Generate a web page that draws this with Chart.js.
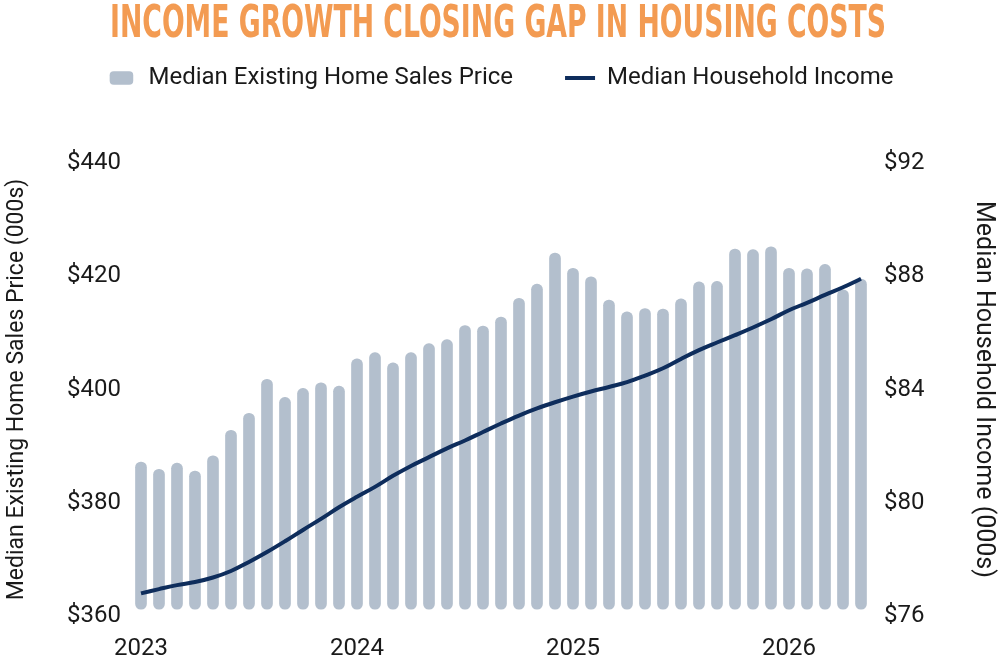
<!DOCTYPE html>
<html>
<head>
<meta charset="utf-8">
<script src="https://cdn.jsdelivr.net/npm/chart.js@4.4.1/dist/chart.umd.min.js"></script>
<style>
  html, body { margin: 0; padding: 0; background: #ffffff; }
  #wrap { width: 1000px; height: 664px; position: relative; overflow: hidden; }
  #titleText {
    position: absolute; left: 498px; top: -1px;
    font-family: 'DejaVu Sans Condensed', 'Liberation Sans Narrow', sans-serif;
    font-weight: bold; font-size: 45px; line-height: 45px;
    color: #F39B52; white-space: nowrap;
    transform-origin: 50% 50%;
    transform: translateX(-50%) scaleX(0.66);
    pointer-events: none;
  }
</style>
</head>
<body>
<div id="wrap">
  <canvas id="c" width="1000" height="664"></canvas>
  <div id="titleText"></div>
</div>
<script>
// ---- Data ----
const months = [
  '2023-01','2023-02','2023-03','2023-04','2023-05','2023-06','2023-07','2023-08','2023-09','2023-10','2023-11','2023-12',
  '2024-01','2024-02','2024-03','2024-04','2024-05','2024-06','2024-07','2024-08','2024-09','2024-10','2024-11','2024-12',
  '2025-01','2025-02','2025-03','2025-04','2025-05','2025-06','2025-07','2025-08','2025-09','2025-10','2025-11','2025-12',
  '2026-01','2026-02','2026-03','2026-04','2026-05'
];
const homePrice = [
  387.2, 385.9, 387.0, 385.6, 388.3, 392.8, 395.8, 401.8, 398.6, 400.2, 401.2, 400.6,
  405.4, 406.5, 404.7, 406.5, 408.1, 408.8, 411.3, 411.2, 412.8, 416.1, 418.6, 424.1,
  421.4, 419.9, 415.8, 413.7, 414.3, 414.2, 416.0, 419.0, 419.1, 424.8, 424.7, 425.2,
  421.4, 421.3, 422.1, 417.6, 419.5
];
const income = [
  76.80, 76.95, 77.09, 77.20, 77.36, 77.59, 77.91, 78.26, 78.64, 79.04, 79.43, 79.84,
  80.21, 80.56, 80.95, 81.30, 81.61, 81.92, 82.20, 82.50, 82.80, 83.08, 83.33, 83.55,
  83.75, 83.93, 84.09, 84.26, 84.49, 84.75, 85.08, 85.39, 85.66, 85.92, 86.19, 86.48,
  86.80, 87.06, 87.34, 87.61, 87.91
];
const priceTicks = [360, 380, 400, 420, 440];
const incomeTicks = [76, 80, 84, 88, 92];
const seriesNames = ['Median Existing Home Sales Price', 'Median Household Income'];
const titleText = 'INCOME GROWTH CLOSING GAP IN HOUSING COSTS';
const leftAxisTitle = 'Median Existing Home Sales Price (000s)';
const rightAxisTitle = 'Median Household Income (000s)';

document.getElementById('titleText').textContent = titleText;

// ---- Styles ----
const BAR = '#B3BFCD';
const LINE = '#0E2D5C';
const TXT = '#1a1a1a';
const FONT = "Roboto, 'Noto Sans', sans-serif";

const chart = new Chart(document.getElementById('c'), {
  data: {
    labels: months,
    datasets: [
      {
        type: 'line',
        label: seriesNames[1],
        data: income,
        yAxisID: 'yR',
        borderColor: LINE,
        backgroundColor: LINE,
        borderWidth: 4,
        pointRadius: 0,
        tension: 0.4,
        order: 0
      },
      {
        type: 'bar',
        label: seriesNames[0],
        data: homePrice,
        yAxisID: 'yL',
        backgroundColor: BAR,
        borderWidth: 0,
        barThickness: 11,
        borderRadius: 6,
        borderSkipped: false,
        base: 361.2,
        order: 1
      }
    ]
  },
  options: {
    responsive: false,
    animation: false,
    layout: { padding: { top: 14, bottom: 0, left: 0, right: 0 } },
    plugins: {
      tooltip: { enabled: false },
      title: { display: false },
      subtitle: {
        display: true,
        text: ' ',
        weight: 500,
        font: { size: 10, lineHeight: 1 },
        padding: { top: 0, bottom: 53 }
      },
      legend: {
        display: true,
        reverse: true,
        labels: {
          color: TXT,
          font: { family: FONT, size: 24 },
          usePointStyle: true,
          pointStyleWidth: 30,
          boxHeight: 11,
          padding: 52,
          generateLabels: (c) => c.data.datasets.map((ds, i) => ({
            text: ds.label,
            fillStyle: ds.type === 'bar' ? BAR : LINE,
            strokeStyle: ds.type === 'bar' ? BAR : LINE,
            lineWidth: ds.type === 'bar' ? 0 : 4,
            pointStyle: ds.type === 'bar' ? 'rectRounded' : 'line',
            datasetIndex: i,
            fontColor: TXT
          }))
        }
      }
    },
    scales: {
      x: {
        type: 'category',
        offset: true,
        grid: { display: false, drawTicks: false },
        border: { display: false },
        ticks: {
          autoSkip: false,
          maxRotation: 0,
          color: TXT,
          font: { family: FONT, size: 24 },
          padding: 19,
          callback: function (v, i) {
            const m = months[i];
            return m.endsWith('-01') ? m.slice(0, 4) : '';
          }
        },
        afterFit: (s) => { s.height = 48; }
      },
      yL: {
        position: 'left',
        min: priceTicks[0],
        max: priceTicks[priceTicks.length - 1],
        afterBuildTicks: (s) => { s.ticks = priceTicks.map(v => ({ value: v })); },
        grid: { display: false, drawTicks: false },
        border: { display: false },
        ticks: {
          color: TXT,
          font: { family: FONT, size: 24 },
          padding: 11,
          callback: (v) => '$' + v
        },
        title: {
          display: true,
          text: leftAxisTitle,
          color: TXT,
          font: { family: FONT, size: 23 },
          padding: { top: 3, bottom: 0 }
        },
        afterFit: (s) => { s.width = 132; }
      },
      yR: {
        position: 'right',
        min: incomeTicks[0],
        max: incomeTicks[incomeTicks.length - 1],
        afterBuildTicks: (s) => { s.ticks = incomeTicks.map(v => ({ value: v })); },
        grid: { display: false, drawTicks: false },
        border: { display: false },
        ticks: {
          color: TXT,
          font: { family: FONT, size: 24 },
          padding: 14,
          callback: (v) => '$' + v
        },
        title: {
          display: true,
          text: rightAxisTitle,
          color: TXT,
          font: { family: FONT, size: 25 },
          padding: { top: 2, bottom: 0 }
        },
        afterFit: (s) => { s.width = 130; }
      }
    }
  }
});
</script>
</body>
</html>
